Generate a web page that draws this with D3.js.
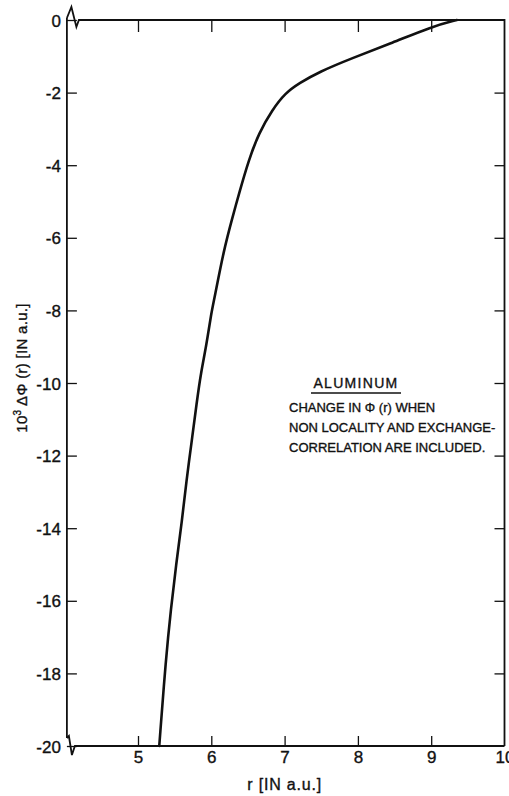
<!DOCTYPE html>
<html>
<head>
<meta charset="utf-8">
<script src="https://cdn.jsdelivr.net/npm/d3@7"></script>
<style>
  body { margin: 0; background: #fff; }
  text { font-family: "Liberation Sans", Arial, sans-serif; fill: #111; stroke: #111; stroke-width: 0.35px; }
</style>
</head>
<body>
<div id="chart"></div>
<script>
// curve: r [a.u.] and 10^3 dPhi(r)
const rValues = [5.29, 5.38, 5.45, 5.52, 5.60, 5.66, 5.73, 5.80, 5.86, 5.93, 6.00, 6.04, 6.17, 6.29, 6.38, 6.51, 6.65, 6.83, 7.01, 7.20, 7.47, 7.92, 8.47, 9.01, 9.35];
const phiValues = [-20, -17.6, -16.2, -15.0, -13.8, -12.7, -11.65, -10.55, -9.7, -9.0, -8.07, -7.7, -6.34, -5.43, -4.77, -3.86, -3.11, -2.48, -2.01, -1.74, -1.43, -1.05, -0.63, -0.18, 0];

const xTicks = [5, 6, 7, 8, 9, 10];
const yTicks = [0, -2, -4, -6, -8, -10, -12, -14, -16, -18, -20];
const noteLines = ["CHANGE IN \u03A6 (r) WHEN", "NON LOCALITY AND EXCHANGE-", "CORRELATION ARE INCLUDED."];

const width = 509, height = 796;

const svg = d3.select("#chart")
  .append("svg")
  .attr("width", width)
  .attr("height", height);

const x = d3.scaleLinear().domain([5, 10]).range([138, 504.5]);
const y = d3.scaleLinear().domain([0, -20]).range([20, 746]);

const xLeft = x(4.03);   // broken axis starts here
const xRight = x(10);

// left axis (ticks inward, labels outside)
const leftAxis = svg.append("g")
  .attr("transform", `translate(${xLeft},0)`)
  .call(d3.axisLeft(y).tickValues(yTicks).tickSize(-10).tickSizeOuter(0).tickPadding(6).tickFormat(d => String(d)));
leftAxis.select(".domain").remove();
leftAxis.selectAll("text").style("font-size", "17px").attr("dy", "0.36em");
leftAxis.selectAll("line").attr("stroke", "#111").attr("stroke-width", 1.3);

// right axis, ticks only
const rightAxis = svg.append("g")
  .attr("transform", `translate(${xRight},0)`)
  .call(d3.axisRight(y).tickValues(yTicks.slice(1, -1)).tickSize(-10).tickFormat(""));
rightAxis.select(".domain").remove();
rightAxis.selectAll("line").attr("stroke", "#111").attr("stroke-width", 1.3);

// top axis, ticks only
const topAxis = svg.append("g")
  .attr("transform", `translate(0,${y(0)})`)
  .call(d3.axisTop(x).tickValues(xTicks.slice(0, -1)).tickSize(-12).tickFormat(""));
topAxis.select(".domain").remove();
topAxis.selectAll("line").attr("stroke", "#111").attr("stroke-width", 1.3);

// bottom axis
const bottomAxis = svg.append("g")
  .attr("transform", `translate(0,${y(-20)})`)
  .call(d3.axisBottom(x).tickValues(xTicks).tickSize(-10).tickPadding(5).tickFormat(d => String(d)));
bottomAxis.select(".domain").remove();
bottomAxis.selectAll("text").style("font-size", "17px");
bottomAxis.selectAll("line").attr("stroke", "#111").attr("stroke-width", 1.3);
bottomAxis.selectAll(".tick").filter(d => d === 10).select("line").remove();

// frame with the axis-break zigzags in the left corners
const y0 = y(0), y20 = y(-20);
svg.append("path")
  .attr("d", `M${xLeft},${y0 - 2} L${xLeft},${y20 - 8}`)
  .attr("fill", "none").attr("stroke", "#111").attr("stroke-width", 1.8);
svg.append("path")
  .attr("d", `M${xLeft},${y0 - 2} L${xLeft + 4.5},${y0 - 13} L${xLeft + 9.5},${y0 + 7} L${xLeft + 12},${y0} L${xRight},${y0} L${xRight},${y20}`)
  .attr("fill", "none").attr("stroke", "#111").attr("stroke-width", 1.8).attr("stroke-linejoin", "miter");
svg.append("path")
  .attr("d", `M${xLeft},${y20 - 8} L${xLeft + 2},${y20 - 10} L${xLeft + 5},${y20 + 9} L${xLeft + 8},${y20} L${xRight},${y20}`)
  .attr("fill", "none").attr("stroke", "#111").attr("stroke-width", 1.8);

// the curve
const pts = rValues.map((r, i) => [r, phiValues[i]]);
svg.append("path")
  .datum(pts)
  .attr("fill", "none")
  .attr("stroke", "#111")
  .attr("stroke-width", 2.6)
  .attr("stroke-linecap", "round")
  .attr("d", d3.line().x(d => x(d[0])).y(d => y(d[1])).curve(d3.curveBasis));

// axis titles
svg.append("text")
  .attr("x", x(7))
  .attr("y", 790)
  .attr("text-anchor", "middle")
  .style("font-size", "16px")
  .style("letter-spacing", "0.8px")
  .text("r [IN a.u.]");

svg.append("text")
  .attr("transform", `translate(27,${368}) rotate(-90)`)
  .attr("text-anchor", "middle")
  .style("font-size", "15px")
  .style("letter-spacing", "0.3px")
  .html("10<tspan dy='-6' font-size='10px'>3</tspan><tspan dy='6'> \u0394\u03A6 (r) [IN a.u.]</tspan>");

// annotation
const note = svg.append("g");
note.append("text")
  .attr("x", 356)
  .attr("y", 388)
  .attr("text-anchor", "middle")
  .style("font-size", "14px")
  .style("letter-spacing", "1.3px")
  .text("ALUMINUM");
note.append("line")
  .attr("x1", 311).attr("x2", 401)
  .attr("y1", 393).attr("y2", 393)
  .attr("stroke", "#111").attr("stroke-width", 1.3);
note.selectAll("text.line")
  .data(noteLines)
  .join("text")
  .attr("class", "line")
  .attr("x", 289)
  .attr("y", (d, i) => 412 + i * 20)
  .style("font-size", "13px")
  .style("letter-spacing", "0px")
  .text(d => d);
</script>
</body>
</html>
